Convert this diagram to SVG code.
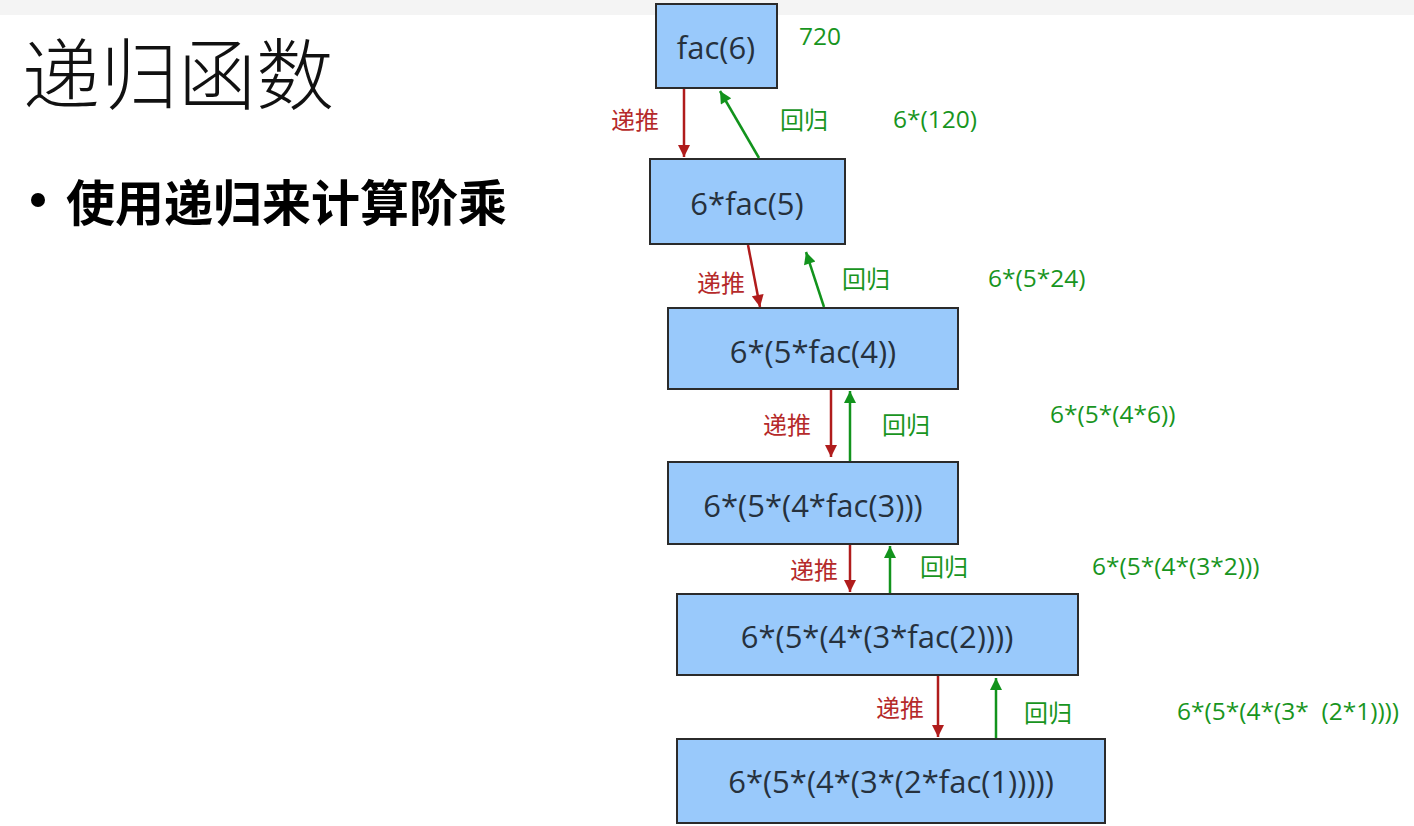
<svg xmlns="http://www.w3.org/2000/svg" width="1414" height="826" viewBox="0 0 1414 826">
<defs>
<marker id="ar2" viewBox="0 0 10 10" refX="10" refY="5" markerWidth="18" markerHeight="12" orient="auto" markerUnits="userSpaceOnUse"><path d="M0,0 L10,5 L0,10 Z" fill="#b01c1c"/></marker>
<marker id="ag2" viewBox="0 0 10 10" refX="10" refY="5" markerWidth="18" markerHeight="12" orient="auto" markerUnits="userSpaceOnUse"><path d="M0,0 L10,5 L0,10 Z" fill="#12931c"/></marker>
</defs>
<style>
.box{fill:#99c9fb;stroke:#2b2b2b;stroke-width:2}
.bt{font-family:"Open Sans","Noto Sans",sans-serif;font-size:31px;fill:#26313d;text-anchor:middle;dominant-baseline:central}
.red{stroke:#b01c1c;stroke-width:2.5;fill:none;marker-end:url(#ar2)}
.grn{stroke:#12931c;stroke-width:2.5;fill:none;marker-end:url(#ag2)}
.lr{font-family:"Noto Sans CJK SC",sans-serif;font-size:24px;fill:#b52a2a;dominant-baseline:central}
.lg{font-family:"Noto Sans CJK SC",sans-serif;font-size:24px;fill:#18951e;dominant-baseline:central}
.vg{font-family:"Open Sans","Noto Sans",sans-serif;font-size:24.5px;fill:#18951e;dominant-baseline:central}
</style>
<rect width="1414" height="826" fill="#ffffff"/>
<rect width="1414" height="15" fill="#f4f4f4"/>
<text x="22" y="104" font-family="'Noto Sans CJK SC',sans-serif" font-weight="300" font-size="78" fill="#111">递归函数</text>
<circle cx="38" cy="200" r="7" fill="#000"/>
<text x="66" y="221" font-family="'Noto Sans CJK SC',sans-serif" font-weight="bold" font-size="49" fill="#000">使用递归来计算阶乘</text>
<g id="n1"><rect class="box" x="656" y="4" width="121" height="84"/><text class="bt" x="716" y="47">fac(6)</text></g>
<g id="n2"><rect class="box" x="650" y="159" width="195" height="85"/><text class="bt" x="747" y="203">6*fac(5)</text></g>
<g id="n3"><rect class="box" x="668" y="308" width="290" height="81"/><text class="bt" x="813" y="351">6*(5*fac(4))</text></g>
<g id="n4"><rect class="box" x="668" y="462" width="290" height="82"/><text class="bt" x="813" y="505">6*(5*(4*fac(3)))</text></g>
<g id="n5"><rect class="box" x="677" y="594" width="401" height="81"/><text class="bt" x="877" y="636">6*(5*(4*(3*fac(2))))</text></g>
<g id="n6"><rect class="box" x="677" y="739" width="428" height="84"/><text class="bt" x="891" y="781">6*(5*(4*(3*(2*fac(1)))))</text></g>
<g id="connectors">
<line class="red" x1="684" y1="89" x2="684" y2="157"/>
<line class="grn" x1="759" y1="158" x2="720" y2="91"/>
<line class="red" x1="748" y1="245" x2="760" y2="307"/>
<line class="grn" x1="824" y1="307" x2="806" y2="252"/>
<line class="red" x1="831" y1="390" x2="831" y2="457"/>
<line class="grn" x1="850" y1="461" x2="850" y2="391"/>
<line class="red" x1="850" y1="545" x2="850" y2="592"/>
<line class="grn" x1="890" y1="593" x2="890" y2="546"/>
<line class="red" x1="938" y1="676" x2="938" y2="737"/>
<line class="grn" x1="996" y1="738" x2="996" y2="678"/>
</g>
<g id="labels">
<text class="vg" x="799" y="35">720</text>
<text class="lr" x="611" y="118">递推</text>
<text class="lg" x="780" y="118">回归</text>
<text class="vg" x="893" y="118">6*(120)</text>
<text class="lr" x="697" y="281">递推</text>
<text class="lg" x="842" y="277">回归</text>
<text class="vg" x="988" y="277">6*(5*24)</text>
<text class="lr" x="763" y="423">递推</text>
<text class="lg" x="882" y="423">回归</text>
<text class="vg" x="1050" y="413">6*(5*(4*6))</text>
<text class="lr" x="790" y="568">递推</text>
<text class="lg" x="920" y="565">回归</text>
<text class="vg" x="1092" y="565">6*(5*(4*(3*2)))</text>
<text class="lr" x="876" y="706">递推</text>
<text class="lg" x="1024" y="711">回归</text>
<text class="vg" x="1177" y="710" xml:space="preserve">6*(5*(4*(3*  (2*1))))</text>
</g>
</svg>
